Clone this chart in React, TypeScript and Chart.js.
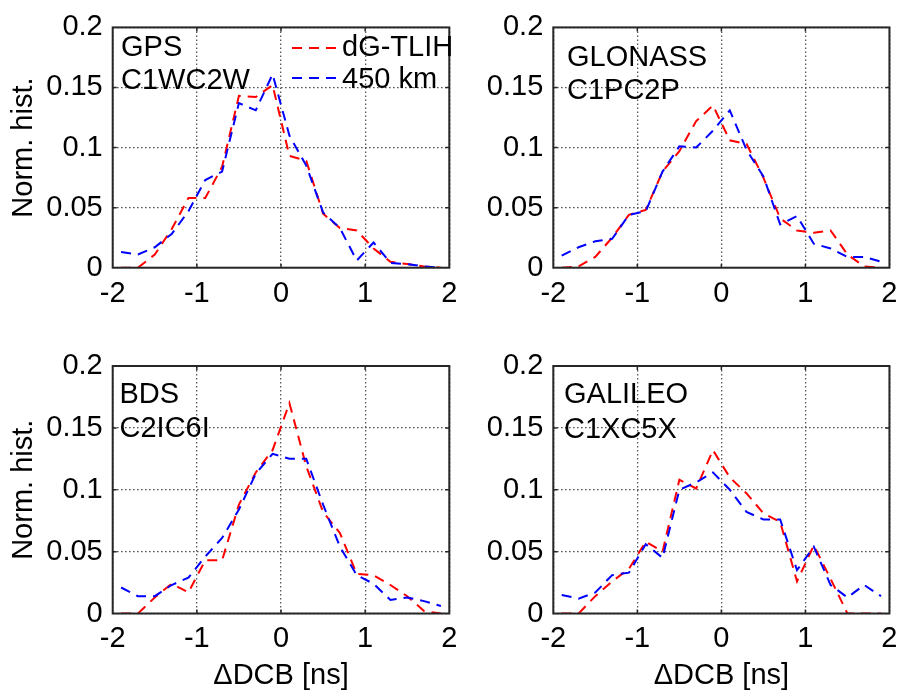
import React, { useEffect, useRef } from 'react';
import { Chart, registerables } from 'chart.js';

Chart.register(...registerables);

const FONT = '"Liberation Sans", Arial, Helvetica, sans-serif';
Chart.defaults.font.family = FONT;
const FS = 29;

// ---- data ----
const xBins = [-1.9, -1.7, -1.5, -1.3, -1.1, -0.9, -0.7, -0.5, -0.3, -0.1, 0.1, 0.3, 0.5, 0.7, 0.9, 1.1, 1.3, 1.5, 1.7, 1.9];

const gpsTlih = [0, 0, 0.011, 0.032, 0.058, 0.058, 0.084, 0.143, 0.142, 0.152, 0.093, 0.089, 0.045, 0.033, 0.031, 0.016, 0.005, 0.003, 0.001, 0];
const gps450 = [0.013, 0.011, 0.017, 0.028, 0.047, 0.073, 0.080, 0.137, 0.131, 0.161, 0.110, 0.085, 0.046, 0.033, 0.006, 0.021, 0.004, 0.003, 0.001, 0];

const gloTlih = [0, 0.001, 0.009, 0.025, 0.044, 0.048, 0.080, 0.097, 0.122, 0.135, 0.106, 0.103, 0.075, 0.041, 0.031, 0.029, 0.031, 0.011, 0.001, 0];
const glo450 = [0.010, 0.017, 0.022, 0.024, 0.044, 0.047, 0.080, 0.101, 0.100, 0.114, 0.131, 0.098, 0.076, 0.036, 0.043, 0.020, 0.016, 0.009, 0.009, 0.005];

const bdsTlih = [0, 0, 0.013, 0.024, 0.017, 0.043, 0.043, 0.088, 0.114, 0.132, 0.170, 0.119, 0.082, 0.065, 0.032, 0.031, 0.023, 0.014, 0.002, 0];
const bds450 = [0.021, 0.014, 0.014, 0.023, 0.029, 0.046, 0.061, 0.084, 0.113, 0.129, 0.125, 0.125, 0.088, 0.054, 0.031, 0.024, 0.011, 0.013, 0.010, 0.006];

const galTlih = [0, 0, 0.014, 0.026, 0.036, 0.058, 0.050, 0.108, 0.101, 0.132, 0.110, 0.097, 0.081, 0.074, 0.026, 0.055, 0.028, 0, 0, 0];
const gal450 = [0.015, 0.012, 0.017, 0.031, 0.033, 0.056, 0.045, 0.100, 0.106, 0.114, 0.100, 0.082, 0.076, 0.076, 0.035, 0.054, 0.023, 0.013, 0.023, 0.014];

const xTickValues = [-2, -1, 0, 1, 2];
const xTickLabels = ['-2', '-1', '0', '1', '2'];
const yTickValues = [0, 0.05, 0.1, 0.15, 0.2];
const yTickLabels = ['0', '0.05', '0.1', '0.15', '0.2'];

const seriesNames = ['dG-TLIH', '450 km'];
const seriesColors = ['#ff0000', '#0000ff'];
const systemNames = ['GPS', 'GLONASS', 'BDS', 'GALILEO'];
const signalNames = ['C1WC2W', 'C1PC2P', 'C2IC6I', 'C1XC5X'];
const yAxisTitle = 'Norm. hist.';
const xAxisTitle = '\u0394DCB [ns]';

const W = 906;
const H = 693;

type PanelDef = {
  L: number; R: number; T: number; B: number;
  padLeft: number; xh: number;
  yTitle: boolean; xTitle: boolean; legend: boolean;
  lx: number; ly1: number; ly2: number;
  red: number[]; blue: number[]; idx: number;
};

const panels: PanelDef[] = [
  { L: 112.7, R: 449.3, T: 21.7, B: 267.7, padLeft: 0, xh: 60, yTitle: true, xTitle: false, legend: true, lx: 121, ly1: 48, ly2: 81, red: gpsTlih, blue: gps450, idx: 0 },
  { L: 553.3, R: 890, T: 21.7, B: 267.7, padLeft: 453, xh: 60, yTitle: false, xTitle: false, legend: false, lx: 567, ly1: 58.3, ly2: 91, red: gloTlih, blue: glo450, idx: 1 },
  { L: 112.7, R: 449.3, T: 366, B: 613.5, padLeft: 0, xh: 79.5, yTitle: true, xTitle: true, legend: false, lx: 119.5, ly1: 395, ly2: 429, red: bdsTlih, blue: bds450, idx: 2 },
  { L: 553.3, R: 890, T: 366, B: 613.5, padLeft: 453, xh: 79.5, yTitle: false, xTitle: true, legend: false, lx: 564, ly1: 395, ly2: 430, red: galTlih, blue: gal450, idx: 3 },
];

const DASH = [10, 7];
const GRID_COLOR = '#555555';

function nearestLabel(values: number[], labels: string[], v: number): string {
  let best = -1;
  let bd = Infinity;
  values.forEach((tv, i) => {
    const d = Math.abs(tv - v);
    if (d < bd) { bd = d; best = i; }
  });
  return bd < 1e-6 ? labels[best] : '';
}

function PanelChart({ p }: { p: PanelDef }) {
  const ref = useRef<HTMLCanvasElement | null>(null);
  useEffect(() => {
    if (!ref.current) return;
    const overlay = {
      id: 'overlay' + p.idx,
      afterDraw(chart: any) {
        const ctx = chart.ctx as CanvasRenderingContext2D;
        const { left, right, top, bottom } = chart.chartArea;
        const xs = chart.scales.x;
        const ys = chart.scales.y;
        ctx.save();
        ctx.setLineDash([]);
        ctx.strokeStyle = '#262626';
        ctx.lineWidth = 1.5;
        const tl = 4;
        [-1, 0, 1].forEach((v) => {
          const px = xs.getPixelForValue(v);
          ctx.beginPath();
          ctx.moveTo(px, bottom); ctx.lineTo(px, bottom - tl);
          ctx.moveTo(px, top); ctx.lineTo(px, top + tl);
          ctx.stroke();
        });
        [0.05, 0.1, 0.15].forEach((v) => {
          const py = ys.getPixelForValue(v);
          ctx.beginPath();
          ctx.moveTo(left, py); ctx.lineTo(left + tl, py);
          ctx.moveTo(right, py); ctx.lineTo(right - tl, py);
          ctx.stroke();
        });
        ctx.lineWidth = 2;
        ctx.strokeRect(left, top, right - left, bottom - top);

        ctx.fillStyle = '#000';
        ctx.font = `${FS}px ${FONT}`;
        ctx.textBaseline = 'middle';
        ctx.textAlign = 'left';
        ctx.fillText(systemNames[p.idx], p.lx, p.ly1);
        ctx.fillText(signalNames[p.idx], p.lx, p.ly2);

        if (p.legend) {
          const rows = [48, 78];
          const textRows = [48, 80];
          seriesNames.forEach((name, i) => {
            ctx.strokeStyle = seriesColors[i];
            ctx.lineWidth = 2;
            ctx.setLineDash(DASH);
            ctx.beginPath();
            ctx.moveTo(292, rows[i]);
            ctx.lineTo(340, rows[i]);
            ctx.stroke();
            ctx.setLineDash([]);
            ctx.fillStyle = '#000';
            ctx.fillText(name, 342, textRows[i]);
          });
        }
        ctx.restore();
      },
    };

    const mk = (arr: number[]) => xBins.map((x, i) => ({ x, y: arr[i] }));

    const chart = new Chart(ref.current, {
      type: 'line',
      data: {
        datasets: [
          { label: seriesNames[0], data: mk(p.red), borderColor: seriesColors[0], borderWidth: 2, borderDash: DASH, pointRadius: 0, fill: false, tension: 0, order: 1 },
          { label: seriesNames[1], data: mk(p.blue), borderColor: seriesColors[1], borderWidth: 2, borderDash: DASH, pointRadius: 0, fill: false, tension: 0, order: 0 },
        ],
      },
      options: {
        responsive: false,
        animation: false,
        devicePixelRatio: 1,
        events: [],
        layout: {
          padding: { left: p.padLeft, top: p.T, right: W - p.R, bottom: H - p.B - p.xh },
        },
        plugins: {
          legend: { display: false },
          tooltip: { enabled: false },
          title: { display: false },
        },
        scales: {
          x: {
            type: 'linear',
            min: -2,
            max: 2,
            afterFit: (s: any) => { s.height = p.xh; },
            afterBuildTicks: (s: any) => { s.ticks = xTickValues.map((v) => ({ value: v })); },
            ticks: {
              stepSize: 1,
              padding: 8.5,
              color: '#000',
              font: { size: FS, family: FONT },
              maxRotation: 0,
              autoSkip: false,
              callback: (v: any) => nearestLabel(xTickValues, xTickLabels, Number(v)),
            },
            grid: { drawTicks: false, color: GRID_COLOR, lineWidth: 1.3 },
            border: { display: false, dash: [1.6, 2.4] },
            title: {
              display: p.xTitle,
              text: xAxisTitle,
              color: '#000',
              font: { size: FS, family: FONT },
              padding: { top: 0, bottom: 0 },
            },
          },
          y: {
            type: 'linear',
            min: 0,
            max: 0.2,
            afterFit: (s: any) => { s.width = p.L - p.padLeft; },
            afterBuildTicks: (s: any) => { s.ticks = yTickValues.map((v) => ({ value: v })); },
            ticks: {
              padding: 10,
              color: '#000',
              font: { size: FS, family: FONT },
              autoSkip: false,
              callback: (v: any) => nearestLabel(yTickValues, yTickLabels, Number(v)),
            },
            grid: { drawTicks: false, color: GRID_COLOR, lineWidth: 1.3 },
            border: { display: false, dash: [1.6, 2.4] },
            title: {
              display: p.yTitle,
              text: yAxisTitle,
              color: '#000',
              font: { size: FS, family: FONT },
              padding: { top: 7, bottom: 0 },
            },
          },
        },
      },
      plugins: [overlay],
    } as any);
    return () => chart.destroy();
  }, [p]);
  return (
    <canvas
      ref={ref}
      width={W}
      height={H}
      style={{ position: 'absolute', left: 0, top: 0, width: W, height: H }}
    />
  );
}

export default function App() {
  return (
    <div style={{ position: 'absolute', left: 0, top: 0, width: W, height: H, background: '#fff', overflow: 'hidden' }}>
      {panels.map((p) => (
        <PanelChart key={p.idx} p={p} />
      ))}
    </div>
  );
}
